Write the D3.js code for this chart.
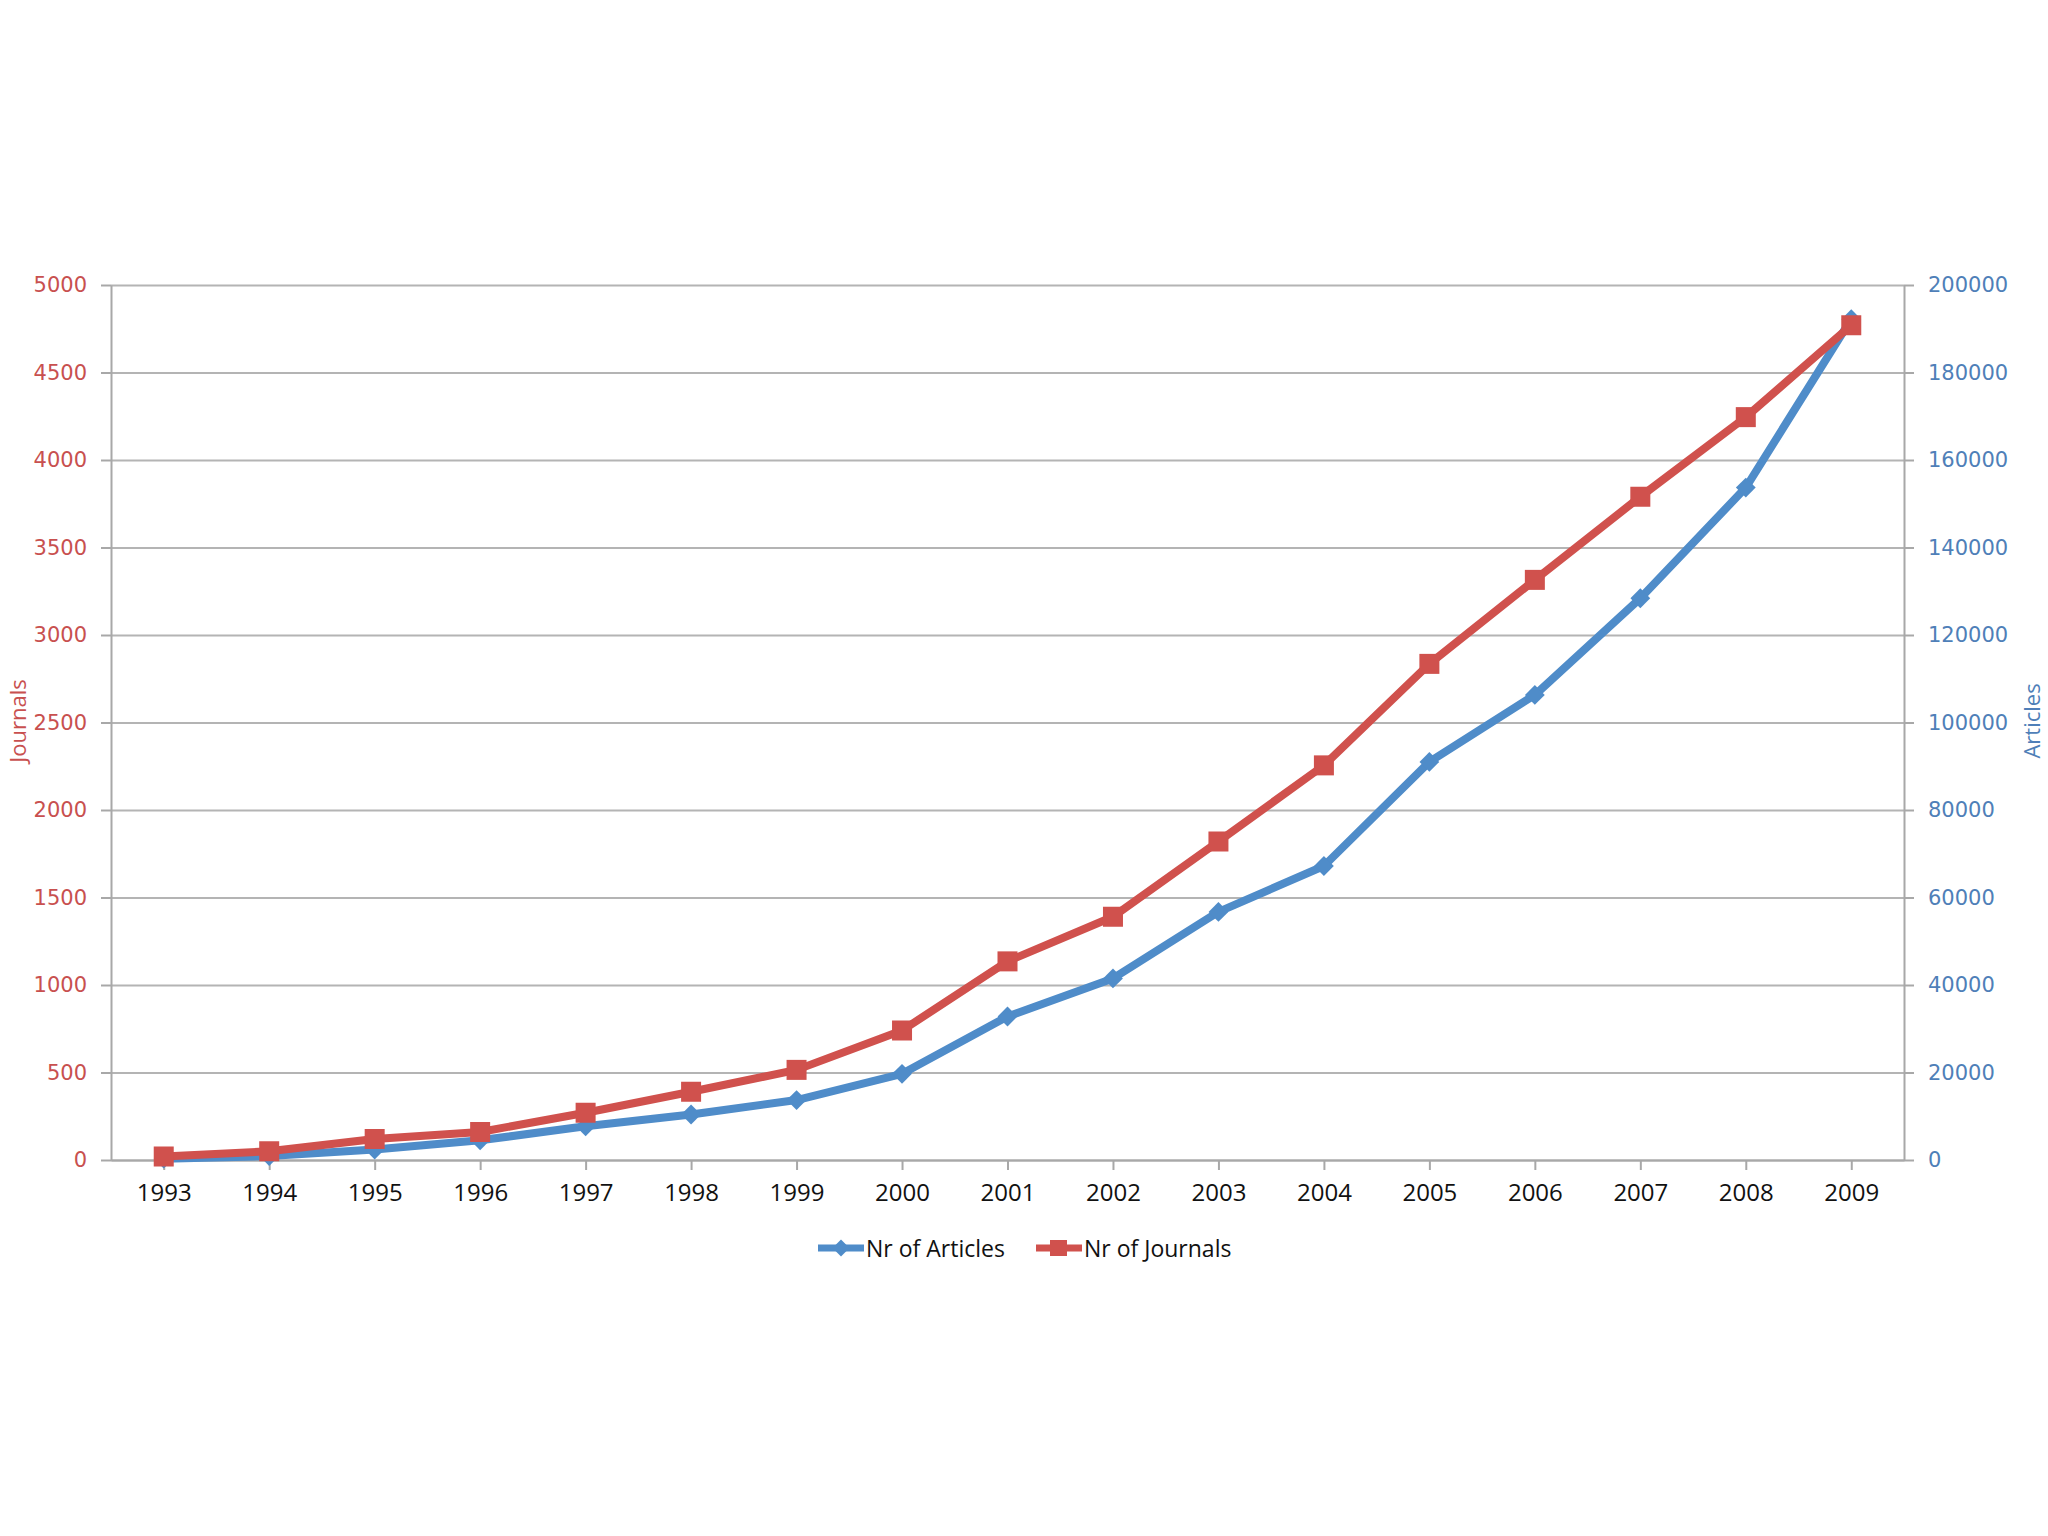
<!DOCTYPE html>
<html>
<head>
<meta charset="utf-8">
<script src="https://cdn.jsdelivr.net/npm/d3@7"></script>
<style>
  body { margin: 0; background: #fff; }
  svg { display: block; }
  .grid line { stroke: #b4b4b4; stroke-width: 2; }
  .grid path { display: none; }
  .axis path, .axis line { stroke: #a8a8a8; stroke-width: 2; }
</style>
</head>
<body>
<div class="graph-container"></div>
<script>
const years = ['1993', '1994', '1995', '1996', '1997', '1998', '1999', '2000', '2001',
               '2002', '2003', '2004', '2005', '2006', '2007', '2008', '2009'];
const journals = [20, 50, 120, 160, 270, 390, 515, 740, 1135, 1390, 1820, 2255,
                  2835, 3315, 3790, 4245, 4770];
const articles = [300, 900, 2400, 4500, 7700, 10400, 13700, 19700, 32800, 41500,
                  56700, 67200, 91000, 106300, 128400, 153700, 192200];
const journalTicks = [0, 500, 1000, 1500, 2000, 2500, 3000, 3500, 4000, 4500, 5000];
const articleTicks = [0, 20000, 40000, 60000, 80000, 100000, 120000, 140000, 160000, 180000, 200000];

const W = 2048, H = 1536;
const margin = {left: 111, right: 144, top: 285, bottom: 376};
const plotWidth = W - margin.left - margin.right;
const plotHeight = H - margin.top - margin.bottom;

const red = '#d0514d', blue = '#4f8cc9';
const redText = '#c8504f', blueText = '#4f7fb8';

const svg = d3.select('.graph-container').append('svg')
  .attr('width', W).attr('height', H);

const panel = svg.append('g')
  .attr('transform', `translate(${margin.left},${margin.top})`);

const x = d3.scalePoint().domain(years).range([0, plotWidth]).padding(0.5);
const yJ = d3.scaleLinear().domain([0, 5000]).range([plotHeight, 0]);
const yA = d3.scaleLinear().domain([0, 200000]).range([plotHeight, 0]);

// grid lines
panel.append('g').attr('class', 'grid')
  .call(d3.axisLeft(yJ).tickValues(journalTicks).tickSize(-plotWidth).tickFormat(''));

// left axis
const left = panel.append('g').attr('class', 'axis')
  .call(d3.axisLeft(yJ).tickValues(journalTicks).tickFormat(d3.format('d'))
    .tickSize(10).tickSizeOuter(0).tickPadding(14));
left.selectAll('text').attr('fill', redText)
  .style('font-family', '"DejaVu Sans", sans-serif').style('font-size', '21px');

// right axis
const right = panel.append('g').attr('class', 'axis')
  .attr('transform', `translate(${plotWidth},0)`)
  .call(d3.axisRight(yA).tickValues(articleTicks).tickFormat(d3.format('d'))
    .tickSize(10).tickSizeOuter(0).tickPadding(14));
right.selectAll('text').attr('fill', blueText)
  .style('font-family', '"DejaVu Sans", sans-serif').style('font-size', '21px');

// bottom axis
const bottom = panel.append('g').attr('class', 'axis')
  .attr('transform', `translate(0,${plotHeight})`)
  .call(d3.axisBottom(x).tickSize(10).tickSizeOuter(0).tickPadding(14));
bottom.selectAll('text').attr('fill', '#111')
  .style('font-family', '"Liberation Sans Narrow", "Open Sans", sans-serif').style('font-size', '24px');

// axis titles
svg.append('text')
  .attr('transform', `translate(26,721) rotate(-90)`)
  .attr('text-anchor', 'middle')
  .attr('fill', redText)
  .style('font-family', '"Liberation Sans Narrow", "Open Sans", sans-serif')
  .style('font-size', '22px')
  .text('Journals');

svg.append('text')
  .attr('transform', `translate(2040,721) rotate(-90)`)
  .attr('text-anchor', 'middle')
  .attr('fill', blueText)
  .style('font-family', '"Liberation Sans Narrow", "Open Sans", sans-serif')
  .style('font-size', '22px')
  .text('Articles');

// lines
const articleLine = d3.line().x((d, i) => x(years[i])).y(d => yA(d));
const journalLine = d3.line().x((d, i) => x(years[i])).y(d => yJ(d));

panel.append('path').datum(articles)
  .attr('d', articleLine).attr('fill', 'none')
  .attr('stroke', blue).attr('stroke-width', 8).attr('stroke-linejoin', 'round');

panel.selectAll('.diamond').data(articles).enter().append('path')
  .attr('class', 'diamond')
  .attr('transform', (d, i) => `translate(${x(years[i])},${yA(d)}) rotate(45)`)
  .attr('d', 'M-7,-7H7V7H-7Z')
  .attr('fill', blue);

panel.append('path').datum(journals)
  .attr('d', journalLine).attr('fill', 'none')
  .attr('stroke', red).attr('stroke-width', 8).attr('stroke-linejoin', 'round');

panel.selectAll('.square').data(journals).enter().append('rect')
  .attr('class', 'square')
  .attr('x', (d, i) => x(years[i]) - 10)
  .attr('y', d => yJ(d) - 10)
  .attr('width', 20).attr('height', 20)
  .attr('fill', red);

// legend
const legend = svg.append('g').attr('transform', 'translate(818,1248)');
const legendItems = [
  {name: 'Nr of Articles', color: blue, marker: 'diamond', dx: 0},
  {name: 'Nr of Journals', color: red, marker: 'square', dx: 218}
];
legendItems.forEach(item => {
  const g = legend.append('g').attr('transform', `translate(${item.dx},0)`);
  g.append('line').attr('x1', 0).attr('x2', 46).attr('y1', 0).attr('y2', 0)
    .attr('stroke', item.color).attr('stroke-width', 7);
  if (item.marker === 'diamond') {
    g.append('path').attr('transform', 'translate(23,0) rotate(45)')
      .attr('d', 'M-6,-6H6V6H-6Z').attr('fill', item.color);
  } else {
    g.append('rect').attr('x', 14).attr('y', -8).attr('width', 17).attr('height', 16)
      .attr('fill', item.color);
  }
  g.append('text').attr('x', 48).attr('y', 9)
    .attr('fill', '#111')
    .style('font-family', '"Open Sans", sans-serif').style('font-size', '23px')
    .text(item.name);
});
</script>
</body>
</html>
